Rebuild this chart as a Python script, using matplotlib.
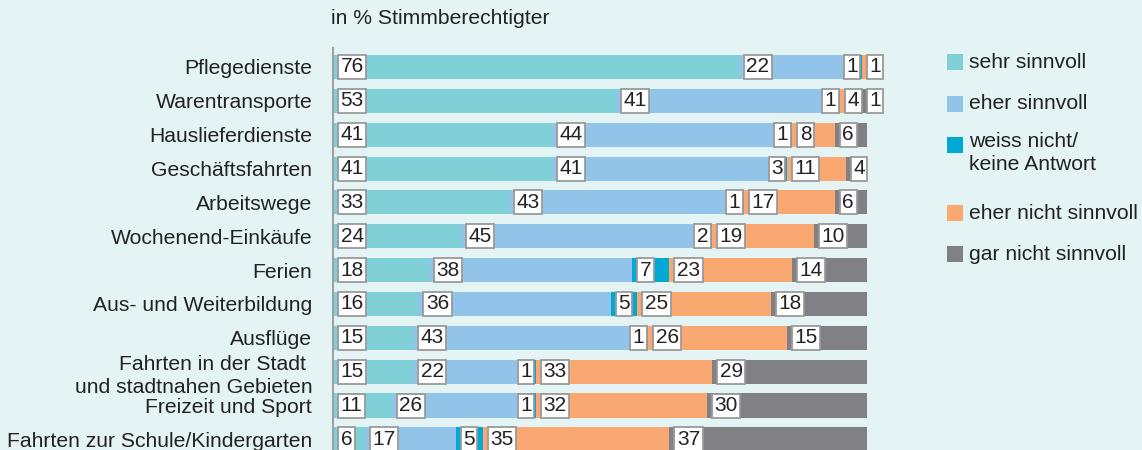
import matplotlib
matplotlib.use("Agg")
import matplotlib.pyplot as plt
from matplotlib.patches import Rectangle

categories = [
    "Pflegedienste",
    "Warentransporte",
    "Hauslieferdienste",
    "Geschäftsfahrten",
    "Arbeitswege",
    "Wochenend-Einkäufe",
    "Ferien",
    "Aus- und Weiterbildung",
    "Ausflüge",
    "Fahrten in der Stadt \nund stadtnahen Gebieten",
    "Freizeit und Sport",
    "Fahrten zur Schule/Kindergarten",
]
sehr_sinnvoll = [76, 53, 41, 41, 33, 24, 18, 16, 15, 15, 11, 6]
eher_sinnvoll = [22, 41, 44, 41, 43, 45, 38, 36, 43, 22, 26, 17]
weiss_nicht = [1, 1, 1, 3, 1, 2, 7, 5, 1, 1, 1, 5]
eher_nicht = [1, 4, 8, 11, 17, 19, 23, 25, 26, 33, 32, 35]
gar_nicht = [0, 1, 6, 4, 6, 10, 14, 18, 15, 29, 30, 37]

series_names = ["sehr sinnvoll", "eher sinnvoll", "weiss nicht/\nkeine Antwort",
                "eher nicht sinnvoll", "gar nicht sinnvoll"]
series = [sehr_sinnvoll, eher_sinnvoll, weiss_nicht, eher_nicht, gar_nicht]
colors = ["#80D0D8", "#92C4EA", "#00A8D4", "#F8A870", "#808085"]
title = "in % Stimmberechtigter"

BG = "#E4F4F4"
TXT = "#222222"
FONT = "Liberation Sans"
FS = 15.2
W, H = 1142, 450
fig = plt.figure(figsize=(W / 100, H / 100), dpi=100, facecolor=BG)

ax_l, ax_r = 333, 867
ax_top, ax_bot = 48, 450
ax = fig.add_axes([ax_l / W, 1 - ax_bot / H, (ax_r - ax_l) / W, (ax_bot - ax_top) / H])
ax.set_facecolor(BG)

row0, step = 67.0, 33.85
ax.set_xlim(0, 100)
ax.set_ylim((ax_bot - row0) / step, (ax_top - row0) / step)

px = 100.0 / (ax_r - ax_l)  # one pixel in data units
n = len(categories)
ys = list(range(n))
left = [0] * n
for k, (vals, col) in enumerate(zip(series, colors)):
    ax.barh(ys, vals, left=left, height=0.71, color=col, edgecolor="none", zorder=2)
    for i, v in enumerate(vals):
        if v == 0:
            continue
        start = left[i]
        if k == 2 and v < 5:
            x = start + v - 4 * px
            ha = "right"
        else:
            x = start + 7.5 * px
            ha = "left"
        ax.text(x, i, str(v), ha=ha, va="center", fontsize=15, family=FONT,
                color=TXT, zorder=5, clip_on=False,
                bbox=dict(boxstyle="square,pad=0.12", fc="white", ec="#9A9A9A", lw=1.3))
    left = [a + b for a, b in zip(left, vals)]

for s in ["top", "right", "bottom"]:
    ax.spines[s].set_visible(False)
ax.spines["left"].set_color("#A0A0A0")
ax.spines["left"].set_linewidth(1.5)
ax.spines["left"].set_zorder(6)
ax.set_xticks([])
ax.set_yticks(ys)
ax.set_yticklabels(categories, fontsize=FS, family=FONT, color=TXT, linespacing=1.3)
ax.tick_params(axis="y", length=0, pad=15)

fig.text(331 / W, 1 - 18 / H, title, ha="left", va="center", fontsize=FS,
         family=FONT, color=TXT)

# legend
leg_y = [62, 104, 145, 213, 254]
for name, col, yy in zip(series_names, colors, leg_y):
    fig.add_artist(Rectangle((947 / W, 1 - (yy + 8) / H), 16 / W, 16 / H,
                             transform=fig.transFigure, fc=col, ec="none"))
    if "\n" in name:
        fig.text(969 / W, 1 - (yy - 13) / H, name, ha="left", va="top",
                 fontsize=FS, family=FONT, color=TXT, linespacing=1.3)
    else:
        fig.text(969 / W, 1 - yy / H, name, ha="left", va="center",
                 fontsize=FS, family=FONT, color=TXT)

fig.savefig("out.png", dpi=100, facecolor=BG)
